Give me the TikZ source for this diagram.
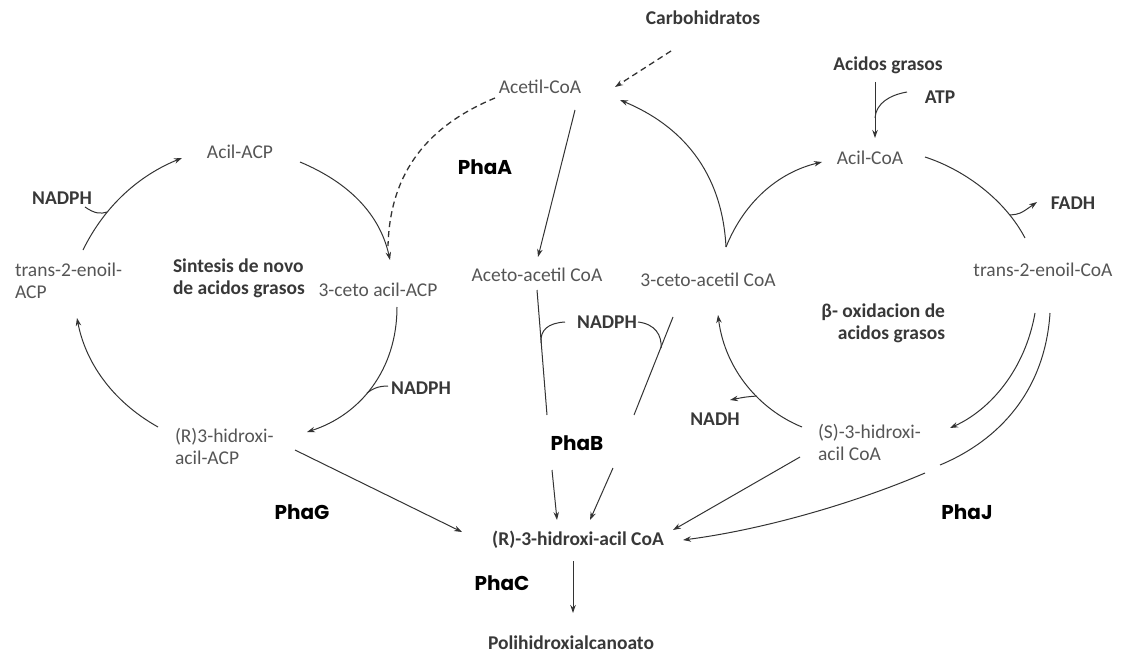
\documentclass[tikz,border=0pt]{standalone}
\usepackage{fontspec}
\setmainfont{Carlito}
\newfontfamily\pop{Poppins}
\usetikzlibrary{arrows.meta}
\definecolor{lab}{HTML}{555555}
\definecolor{bld}{HTML}{383838}
\definecolor{ln}{HTML}{333333}
\begin{document}
\begin{tikzpicture}[x=1pt,y=-1pt,
 every node/.style={inner sep=0pt, outer sep=0pt},
 lbl/.style={font=\fontsize{19.5}{22}\selectfont, text=lab},
 blbl/.style={font=\fontsize{19.5}{22}\selectfont\bfseries, text=bld},
 enz/.style={font=\pop\fontsize{20}{24}\selectfont\bfseries, text=black},
 conn/.style={draw=ln, line width=1pt},
 arr/.style={conn, -{Stealth[length=8pt,width=5.5pt]}},
 dsh/.style={draw=ln, line width=1.3pt, dash pattern=on 6pt off 4pt}]
\useasboundingbox (0,0) rectangle (1123,655);
% nodes
\node[blbl] (carb) at (703,18) {Carbohidratos};
\node[lbl] (acetil) at (540,87) {Acetil-CoA};
\node[blbl] (acgr) at (888,65) {Acidos grasos};
\node[blbl] (atp) at (940,97) {ATP};
\node[lbl] (acilacp) at (240,152) {Acil-ACP};
\node[blbl] (nadphA) at (62,198) {NADPH};
\node[enz] (phaA) at (485,167) {PhaA};
\node[lbl] (acilcoa) at (870,158) {Acil-CoA};
\node[blbl] (fadh) at (1073,203) {FADH};
\node[lbl, align=left, anchor=west] (enoilacp) at (15,281) {trans-2-enoil-\\ACP};
\node[blbl, align=left, anchor=west] (sint) at (173,278) {Sintesis de novo\\de acidos grasos};
\node[lbl] (cetoacp) at (378,290) {3-ceto acil-ACP};
\node[lbl] (acetoac) at (537,275) {Aceto-acetil CoA};
\node[lbl] (cetoac) at (708,280) {3-ceto-acetil CoA};
\node[lbl] (enoilcoa) at (1043,270) {trans-2-enoil-CoA};
\node[blbl, align=right, anchor=east] (beta) at (945,323) {β- oxidacion de\\acidos grasos};
\node[blbl] (nadphB) at (607,322) {NADPH};
\node[blbl] (nadphC) at (421,388) {NADPH};
\node[blbl] (nadh) at (715,419) {NADH};
\node[lbl, align=left, anchor=west] (rthacp) at (175,446) {(R)3-hidroxi-\\acil-ACP};
\node[lbl, align=left, anchor=west] (sth) at (818,442) {(S)-3-hidroxi-\\acil CoA};
\node[enz] (phaB) at (577,443) {PhaB};
\node[enz] (phaG) at (302,512) {PhaG};
\node[enz] (phaJ) at (967,512) {PhaJ};
\node[blbl] (rth) at (578,540) {(R)-3-hidroxi-acil CoA};
\node[enz] (phaC) at (502,583) {PhaC};
\node[blbl] (pha) at (571,643) {Polihidroxialcanoato};
% connector end points
\coordinate (carbS) at (671,51);   \coordinate (acetilNE) at (615,87);
\coordinate (acetilW) at (495,98); \coordinate (cetoacpN) at (388,246);
\coordinate (acilacpE) at (300,162); \coordinate (cetoacpNt) at (390,260);
\coordinate (enoilacpN) at (83,250); \coordinate (acilacpW) at (182,158);
\coordinate (nadphAh) at (85,207); \coordinate (jA) at (107,212);
\coordinate (cetoacpS) at (397,307); \coordinate (rthacpE) at (307,432);
\coordinate (nadphCh) at (388,386); \coordinate (jC) at (367,393);
\coordinate (rthacpN) at (158,427); \coordinate (enoilacpS) at (77,318);
\coordinate (rthacpSE) at (295,450); \coordinate (rthW) at (462,532);
\coordinate (acetilS) at (575,110); \coordinate (acetoacN) at (538,257);
\coordinate (acetoacS) at (537,290); \coordinate (bA) at (547,415);
\coordinate (bB) at (552,470); \coordinate (rthNa) at (557,520);
\coordinate (cetoacSW) at (673,317); \coordinate (bC) at (634,415);
\coordinate (bD) at (613,468); \coordinate (rthNb) at (590,520);
\coordinate (nadphBl) at (565,322); \coordinate (jBl) at (541,343);
\coordinate (nadphBr) at (638,322); \coordinate (jBr) at (661,348);
\coordinate (cetoacN) at (726,247); \coordinate (acetilE) at (620,100);
\coordinate (acilcoaW) at (822,162);
\coordinate (acgrS) at (875,82); \coordinate (acilcoaN) at (875,138);
\coordinate (atpW) at (907,92); \coordinate (jT) at (875,118);
\coordinate (acilcoaE) at (925,157); \coordinate (enoilcoaN) at (1025,238);
\coordinate (jF) at (1010,215); \coordinate (fadhW) at (1037,202);
\coordinate (enoilcoaSa) at (1035,313); \coordinate (sthE) at (950,428);
\coordinate (enoilcoaSb) at (1050,313); \coordinate (gapA) at (940,465);
\coordinate (gapB) at (925,473); \coordinate (rthE) at (683,540);
\coordinate (sthW) at (802,427); \coordinate (cetoacS) at (718,315);
\coordinate (jN) at (757,396); \coordinate (nadhE) at (730,400);
\coordinate (sthSW) at (800,457); \coordinate (rthNE) at (673,530);
\coordinate (rthS) at (573,561); \coordinate (phaN) at (573,613);
% connectors
\draw[dsh, -{Stealth[length=8pt,width=5.5pt]}] (carbS) -- (acetilNE);
\draw[dsh] (acetilW) .. controls (430,125) and (390,170) .. (cetoacpN);
\draw[arr] (acilacpE) .. controls (350,183) and (380,215) .. (cetoacpNt);
\draw[arr] (enoilacpN) .. controls (105,205) and (140,175) .. (acilacpW);
\draw[conn] (nadphAh) .. controls (95,214) and (101,214) .. (jA);
\draw[arr] (cetoacpS) .. controls (397,370) and (360,415) .. (rthacpE);
\draw[conn] (nadphCh) .. controls (378,386) and (372,389) .. (jC);
\draw[arr] (rthacpN) .. controls (110,400) and (85,360) .. (enoilacpS);
\draw[arr] (rthacpSE) -- (rthW);
\draw[arr] (acetilS) -- (acetoacN);
\draw[conn] (acetoacS) -- (bA);
\draw[arr] (bB) -- (rthNa);
\draw[conn] (cetoacSW) -- (bC);
\draw[arr] (bD) -- (rthNb);
\draw[conn] (nadphBl) .. controls (548,323) and (540,330) .. (jBl);
\draw[conn] (nadphBr) .. controls (655,324) and (662,335) .. (jBr);
\draw[arr] (cetoacN) .. controls (722,170) and (680,125) .. (acetilE);
\draw[arr] (cetoacN) .. controls (745,200) and (780,172) .. (acilcoaW);
\draw[arr] (acgrS) -- (acilcoaN);
\draw[conn] (atpW) .. controls (890,95) and (876,103) .. (jT);
\draw[conn] (acilcoaE) .. controls (965,170) and (1005,200) .. (enoilcoaN);
\draw[arr] (jF) .. controls (1020,214) .. (fadhW);
\draw[arr] (enoilcoaSa) .. controls (1025,370) and (990,410) .. (sthE);
\draw[conn] (enoilcoaSb) .. controls (1045,390) and (1000,440) .. (gapA);
\draw[arr] (gapB) .. controls (850,505) and (760,530) .. (rthE);
\draw[arr] (sthW) .. controls (760,410) and (725,370) .. (cetoacS);
\draw[arr] (jN) .. controls (745,397) .. (nadhE);
\draw[arr] (sthSW) -- (rthNE);
\draw[arr] (rthS) -- (phaN);
\end{tikzpicture}
\end{document}
